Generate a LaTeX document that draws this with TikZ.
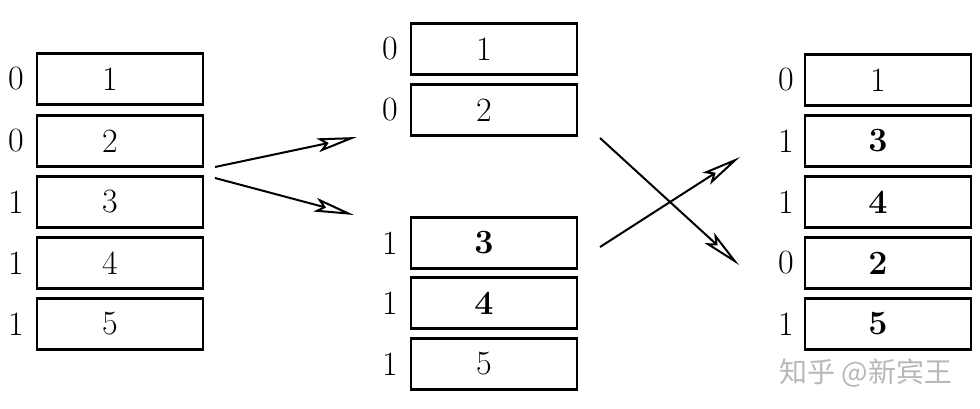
\documentclass[tikz,border=0pt]{standalone}
\usepackage{fontspec}
\newfontfamily\cjk{Noto Sans CJK SC}
\usetikzlibrary{arrows.meta,calc}
\newcommand{\dg}[1]{#1\hspace*{20pt}}
\begin{document}
\begin{tikzpicture}[x=1pt,y=-1pt,
  cell/.style={draw,line width=2.8pt,minimum width=166pt,minimum height=51pt,inner sep=0pt,font=\fontsize{34}{38}\selectfont},
  tag/.style={inner sep=0pt,font=\fontsize{34}{38}\selectfont},
  arr/.style={line width=2pt,-{Stealth[open,length=40pt,width=14pt,inset=8pt,line width=2pt]}}]
\useasboundingbox (0,0) rectangle (980,408);
% left column
\node[cell] (L1) at (120,79) {\dg{1}};
\node[cell] (L2) at (120,141) {\dg{2}};
\node[cell] (L3) at (120,202) {\dg{3}};
\node[cell] (L4) at (120,263) {\dg{4}};
\node[cell] (L5) at (120,324) {\dg{5}};
\node[tag] (l1) at (16,79) {0};
\node[tag] (l2) at (16,141) {0};
\node[tag] (l3) at (16,202) {1};
\node[tag] (l4) at (16,263) {1};
\node[tag] (l5) at (16,324) {1};
% middle column
\node[cell] (M1) at (494,49) {\dg{1}};
\node[cell] (M2) at (494,110) {\dg{2}};
\node[cell] (M3) at (494,243) {\dg{\bfseries 3}};
\node[cell] (M4) at (494,303) {\dg{\bfseries 4}};
\node[cell] (M5) at (494,364) {\dg{5}};
\node[tag] (m1) at (390,49) {0};
\node[tag] (m2) at (390,110) {0};
\node[tag] (m3) at (390,243) {1};
\node[tag] (m4) at (390,303) {1};
\node[tag] (m5) at (390,364) {1};
% right column
\node[cell] (R1) at (888,80) {\dg{1}};
\node[cell] (R2) at (888,141) {\dg{\bfseries 3}};
\node[cell] (R3) at (888,202) {\dg{\bfseries 4}};
\node[cell] (R4) at (888,263) {\dg{\bfseries 2}};
\node[cell] (R5) at (888,324) {\dg{\bfseries 5}};
\node[tag] (r1) at (786,80) {0};
\node[tag] (r2) at (786,141) {1};
\node[tag] (r3) at (786,202) {1};
\node[tag] (r4) at (786,263) {0};
\node[tag] (r5) at (786,324) {1};
% arrows
\coordinate (a1s) at (215,167);
\coordinate (a1e) at (357,137);
\coordinate (a2s) at (215,178);
\coordinate (a2e) at (354,215);
\coordinate (b1s) at (600,138);
\coordinate (b1e) at (739,265);
\coordinate (b2s) at (600,247);
\coordinate (b2e) at (740,157);
\draw[arr] (a1s) -- (a1e);
\draw[arr] (a2s) -- (a2e);
\draw[arr] (b1s) -- (b1e);
\draw[arr] (b2s) -- (b2e);
% watermark
\node[inner sep=0pt,text=black!28,font=\cjk\fontsize{28}{32}\selectfont] (wm) at (866,373) {知乎 @新宾王};
\end{tikzpicture}
\end{document}
